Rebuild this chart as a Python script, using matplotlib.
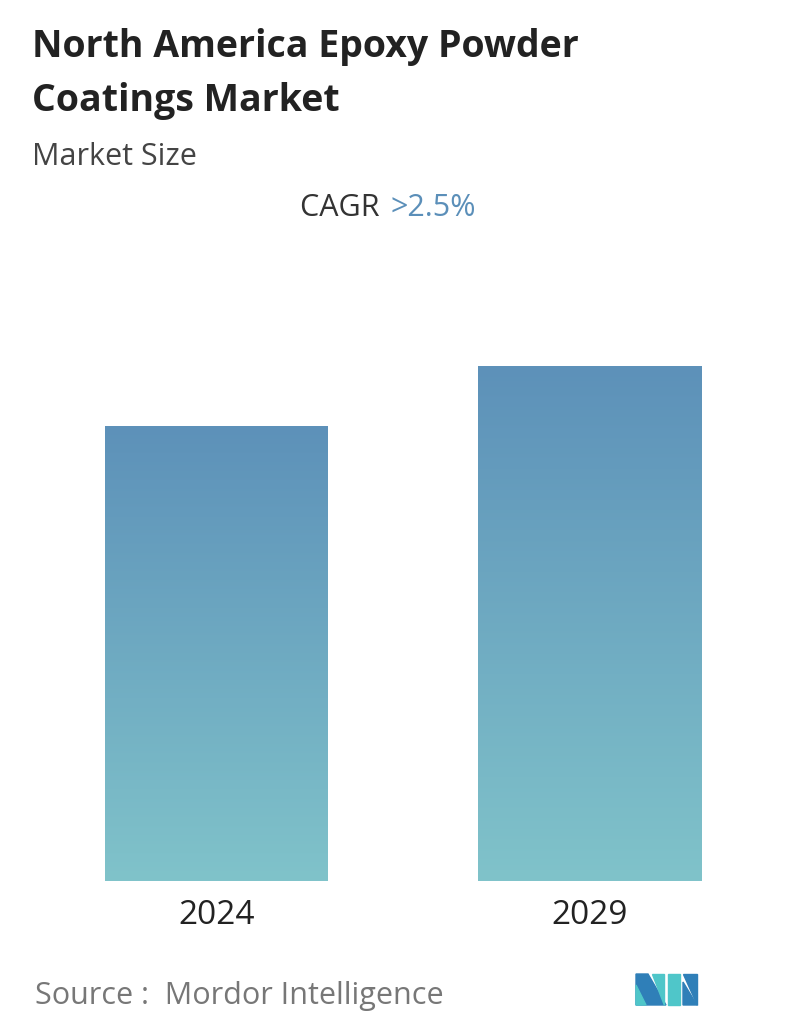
import matplotlib
matplotlib.use("Agg")
import matplotlib.pyplot as plt
import numpy as np
from matplotlib.patches import Polygon

years = ["2024", "2029"]
values = [455, 515]

W, H = 796, 1034
fig = plt.figure(figsize=(W/100, H/100), dpi=100)
fig.patch.set_facecolor("white")
base = 881; top = 300
ax = fig.add_axes([0, (H-base)/H, 1, (base-top)/H])
ax.axis("off")
x = np.arange(len(years))
bw = 223/373
grad = np.linspace(0, 1, 256).reshape(-1, 1)
from matplotlib.colors import LinearSegmentedColormap
cmap = LinearSegmentedColormap.from_list("g", ["#80c3ca", "#5d91b9"])
bars = ax.bar(x, values, width=bw, color="none")
for b, v in zip(bars, values):
    im = ax.imshow(grad, cmap=cmap, aspect="auto", origin="lower",
                   extent=[b.get_x(), b.get_x()+b.get_width(), 0, v], zorder=2)
    im.set_clip_path(b)
ax.set_xlim(-216.5/373, 1 + (796-589.5)/373)
ax.set_ylim(0, base-top)
for xi, lab in zip(x, years):
    ax.annotate(lab, (xi, 0), xytext=(0, -34), textcoords="offset pixels",
                ha="center", va="center", fontsize=24, color="#222222", family="Open Sans")

def fy(py): return 1 - py/H
def fx(px): return px/W
fig.text(fx(32), fy(47), "North America Epoxy Powder", fontsize=27, fontweight="bold",
         family="Open Sans", color="#222222", va="center")
fig.text(fx(32), fy(101), "Coatings Market", fontsize=27, fontweight="bold",
         family="Open Sans", color="#222222", va="center")
fig.text(fx(32), fy(157), "Market Size", fontsize=22, family="Open Sans", color="#444444", va="center")
t = fig.text(fx(300), fy(208), "CAGR ", fontsize=22, family="Open Sans", color="#333333", va="center")
fig.canvas.draw()
bb = t.get_window_extent()
fig.text(bb.x1/W + 0.004, fy(208), ">2.5%", fontsize=22, family="Open Sans", color="#5b8fb9", va="center")
fig.text(fx(35), fy(996), "Source :  Mordor Intelligence", fontsize=22, family="Open Sans",
         color="#777777", va="center")

def poly(pts, c):
    fig.patches.append(Polygon([(fx(a), fy(b)) for a, b in pts], closed=True,
                               transform=fig.transFigure, color=c))
poly([(636, 974), (648, 974), (666, 1005), (636, 1005)], "#2f7fb8")
poly([(636, 985), (646, 1005), (636, 1005)], "#4fc6c9")
poly([(652, 974), (664, 974), (664, 1005)], "#4fc6c9")
poly([(668, 974), (680, 974), (680, 1005), (668, 1005)], "#4fc6c9")
poly([(683, 974), (697, 974), (697, 1005)], "#2f7fb8")
poly([(683, 982), (697, 1005), (683, 1005)], "#2f7fb8")
fig.savefig("out.png", dpi=100, facecolor="white")
